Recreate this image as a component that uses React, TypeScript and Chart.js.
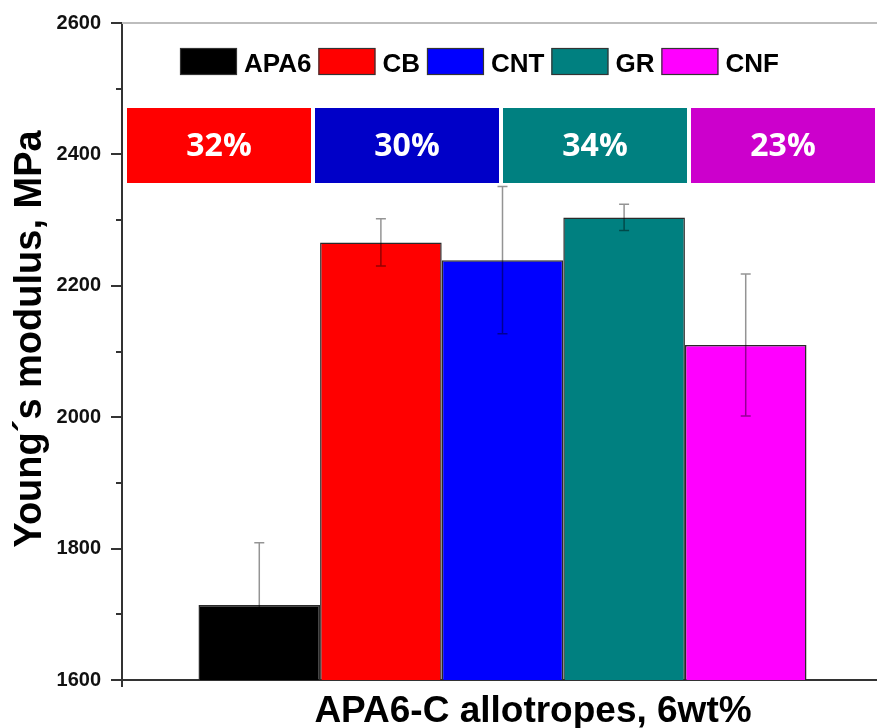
import React, { useEffect, useRef } from "react";
import { Chart, registerables } from "chart.js";

Chart.register(...registerables);

const categories = ["APA6", "CB", "CNT", "GR", "CNF"];
const modulus = [1714, 2266, 2239, 2304, 2110];
const modulusError = [95, 36, 112, 20, 108];
const barColors = ["#000000", "#ff0000", "#0000ff", "#008080", "#ff00ff"];
const improvementLabels = ["32%", "30%", "34%", "23%"];
const improvementColors = ["#ff0000", "#0000c8", "#008080", "#cc00cc"];
const yMin = 1600;
const yMax = 2600;
const yMajorStep = 200;
const yMinorStep = 100;
const yTitle = "Young\u00b4s modulus, MPa";
const xTitle = "APA6-C allotropes, 6wt%";

const FONT = "'Liberation Sans', Arial, Helvetica, sans-serif";

const decorPlugin = {
  id: "decor",
  beforeDatasetsDraw(chart: any) {
    const { ctx, chartArea } = chart;
    ctx.save();
    ctx.strokeStyle = "#bdbdbd";
    ctx.lineWidth = 2;
    ctx.beginPath();
    ctx.moveTo(chartArea.left, chartArea.top);
    ctx.lineTo(chart.width, chartArea.top);
    ctx.stroke();
    ctx.restore();
  },
  afterDatasetsDraw(chart: any) {
    const { ctx } = chart;
    const y = chart.scales.y;
    ctx.save();
    ctx.strokeStyle = "rgba(0,0,0,0.42)";
    ctx.lineWidth = 1.5;
    chart.data.datasets.forEach((ds: any, i: number) => {
      const meta = chart.getDatasetMeta(i);
      const bar = meta.data[0];
      if (!bar) return;
      const v = ds.data[0];
      const e = modulusError[i];
      const yt = y.getPixelForValue(v + e);
      const yb = y.getPixelForValue(v - e);
      const x = bar.x;
      ctx.beginPath();
      ctx.moveTo(x, yt);
      ctx.lineTo(x, yb);
      ctx.moveTo(x - 5, yt);
      ctx.lineTo(x + 5, yt);
      ctx.moveTo(x - 5, yb);
      ctx.lineTo(x + 5, yb);
      ctx.stroke();
    });
    ctx.restore();
  },
  afterDraw(chart: any) {
    const { ctx, chartArea } = chart;
    const y = chart.scales.y;
    ctx.save();
    ctx.strokeStyle = "#333";
    ctx.lineWidth = 2;
    for (let v = yMin + yMinorStep; v < yMax; v += yMajorStep) {
      const py = Math.round(y.getPixelForValue(v));
      ctx.beginPath();
      ctx.moveTo(chartArea.left - 6, py);
      ctx.lineTo(chartArea.left, py);
      ctx.stroke();
    }
    ctx.beginPath();
    ctx.moveTo(chartArea.left, chartArea.bottom);
    ctx.lineTo(chartArea.left, chartArea.bottom + 7);
    ctx.stroke();

    // legend
    ctx.font = `bold 26px ${FONT}`;
    ctx.textBaseline = "alphabetic";
    ctx.textAlign = "left";
    let lx = 180;
    const boxW = 57;
    const boxH = 27;
    const boxTop = 48;
    chart.data.datasets.forEach((ds: any) => {
      ctx.fillStyle = ds.backgroundColor;
      ctx.fillRect(lx, boxTop, boxW, boxH);
      ctx.strokeStyle = "#333";
      ctx.lineWidth = 1.2;
      ctx.strokeRect(lx + 0.5, boxTop + 0.5, boxW - 1, boxH - 1);
      lx += boxW + 7;
      ctx.fillStyle = "#000";
      ctx.fillText(ds.label, lx, 72);
      lx += ctx.measureText(ds.label).width + 7;
    });

    // improvement boxes
    const bw = 184;
    const bgap = 4;
    const bTop = 108;
    const bH = 75;
    improvementLabels.forEach((lab, i) => {
      const bx = 127 + i * (bw + bgap);
      ctx.fillStyle = improvementColors[i];
      ctx.fillRect(bx, bTop, bw, bH);
      ctx.fillStyle = "#ffffff";
      ctx.font = `bold 32px 'Open Sans', 'Noto Sans', sans-serif`;
      ctx.textAlign = "center";
      ctx.textBaseline = "middle";
      ctx.fillText(lab, bx + bw / 2, bTop + bH / 2 + 1);
    });

    // axis titles
    ctx.fillStyle = "#000";
    ctx.font = `bold 37px ${FONT}`;
    ctx.textAlign = "center";
    ctx.textBaseline = "alphabetic";
    ctx.fillText(xTitle, 533, 722);
    ctx.save();
    ctx.font = `bold 38px ${FONT}`;
    ctx.translate(41, 339);
    ctx.rotate(-Math.PI / 2);
    ctx.fillText(yTitle, 0, 0);
    ctx.restore();

    ctx.restore();
  },
};

export default function App() {
  const canvasRef = useRef<HTMLCanvasElement | null>(null);

  useEffect(() => {
    document.body.style.margin = "0";
    document.body.style.overflow = "hidden";
    const canvas = canvasRef.current;
    if (!canvas) return;
    const chart = new Chart(canvas, {
      type: "bar",
      data: {
        labels: [""],
        datasets: categories.map((c, i) => ({
          label: c,
          data: [modulus[i]],
          backgroundColor: barColors[i],
          borderColor: "#2a2a2a",
          borderWidth: 1.5,
          categoryPercentage: 0.799,
          barPercentage: 1,
        })),
      },
      options: {
        animation: false,
        responsive: true,
        maintainAspectRatio: false,
        layout: { padding: { top: 23, right: 0, left: 0, bottom: 0 } },
        plugins: {
          legend: { display: false },
          tooltip: { enabled: false },
          title: { display: false },
        },
        scales: {
          x: {
            afterFit: (s: any) => {
              s.height = 48;
            },
            ticks: { display: false },
            grid: { display: false, drawTicks: false },
            border: { display: true, color: "#333", width: 2 },
          },
          y: {
            min: yMin,
            max: yMax,
            afterFit: (s: any) => {
              s.width = 122;
            },
            ticks: {
              stepSize: yMinorStep,
              autoSkip: false,
              padding: 10,
              color: "#111",
              font: { family: FONT, size: 20, weight: "bold" },
              callback: (v: any) => (Number(v) % yMajorStep === 0 ? String(v) : ""),
            },
            grid: {
              drawOnChartArea: false,
              drawTicks: true,
              tickLength: 11,
              lineWidth: 2,
              color: (ctx: any) =>
                ctx.tick && ctx.tick.value % yMajorStep === 0 ? "#333" : "rgba(0,0,0,0)",
            },
            border: { display: true, color: "#333", width: 2 },
          },
        },
      },
      plugins: [decorPlugin],
    } as any);
    return () => chart.destroy();
  }, []);

  return (
    <div style={{ width: 877, height: 728, overflow: "hidden", position: "relative" }}>
      <div style={{ width: 883, height: 728, position: "relative" }}>
        <canvas ref={canvasRef} />
      </div>
    </div>
  );
}
